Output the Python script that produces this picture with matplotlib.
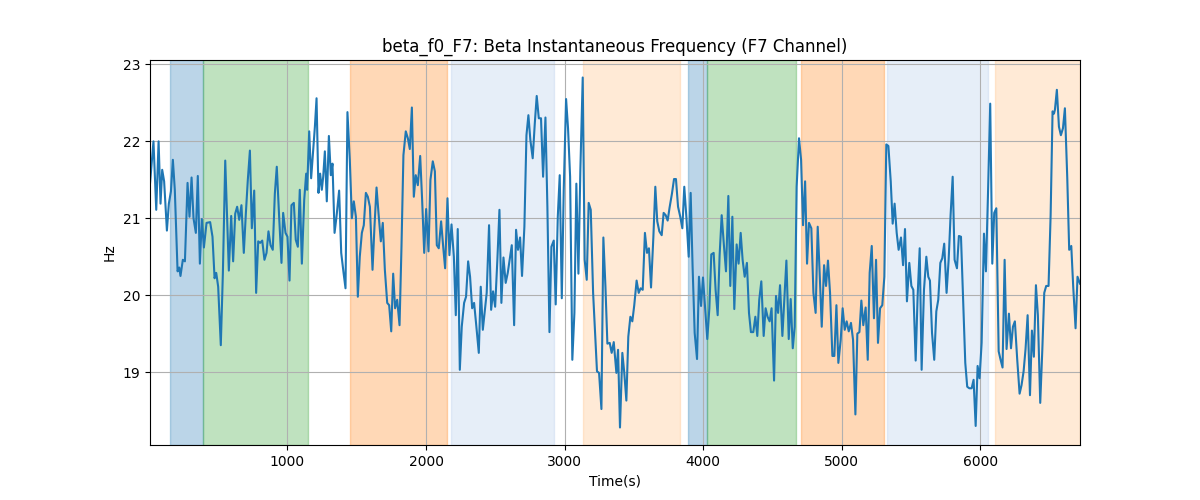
import matplotlib
matplotlib.use("Agg")
import matplotlib.pyplot as plt
import numpy as np

# ---- data ----
time_a = [8, 33, 53, 70, 84, 96, 110, 130, 144, 159, 173, 187, 207, 219, 228, 245, 260, 279, 293, 308,
          322, 339, 353, 368, 382, 397, 416, 442, 459, 474, 486, 500, 519, 534, 551, 563, 577, 594, 608, 623,
          637, 652, 668, 685, 700, 714, 729, 743, 760, 774, 789, 803, 818, 834, 849, 863, 878, 894, 909, 923,
          940, 957, 969, 986, 1000, 1015, 1029, 1046, 1060, 1075, 1089, 1104, 1121, 1135]
hz_a = [21.45, 22.00, 21.11, 22.00, 21.19, 21.63, 21.48, 20.84, 21.19, 21.35, 21.76, 21.37, 20.31, 20.36, 20.25,
        20.46, 20.44, 21.46, 21.02, 21.53, 21.00, 20.81, 21.55, 20.41, 20.99, 20.62, 20.94, 20.95, 20.76, 20.22,
        20.29, 20.11, 19.35, 20.29, 21.75, 21.09, 20.32, 21.03, 20.44, 21.06, 21.15, 20.98, 21.17, 20.55, 21.07,
        21.50, 21.88, 20.87, 21.36, 20.03, 20.70, 20.68, 20.71, 20.46, 20.55, 20.83, 20.65, 20.59, 21.32, 21.67,
        21.02, 20.42, 21.07, 20.81, 20.76, 20.19, 21.17, 21.20, 20.72, 20.63, 21.37, 20.41, 21.24, 21.58]

time_b = [1142, 1157, 1171, 1186, 1198, 1210, 1224, 1236, 1248, 1258, 1270, 1284, 1299, 1313, 1325, 1340, 1354,
          1373, 1388, 1405, 1419, 1433, 1450, 1465, 1479, 1494, 1508, 1522, 1537, 1551, 1566, 1580, 1595, 1614,
          1628, 1643, 1657, 1674, 1688, 1703, 1720, 1734, 1749, 1763, 1777, 1792, 1809, 1823, 1837, 1854, 1869,
          1883, 1898, 1912, 1926, 1941, 1958, 1972, 1987, 2001, 2018, 2032, 2049, 2064, 2078, 2092, 2109, 2124,
          2138, 2155, 2169, 2184, 2201, 2215, 2229, 2244]
hz_b = [21.37, 22.13, 21.52, 21.89, 22.19, 22.56, 21.33, 21.58, 21.37, 21.54, 21.87, 21.22, 22.07, 21.56, 21.71,
        20.81, 21.02, 21.36, 20.55, 20.29, 20.09, 22.38, 21.76, 21.00, 21.22, 21.02, 19.98, 20.50, 20.81, 20.91,
        21.33, 21.28, 21.15, 20.33, 20.89, 21.40, 21.07, 20.70, 20.94, 20.33, 19.90, 19.87, 19.53, 20.28, 19.83,
        19.94, 19.61, 20.63, 21.82, 22.13, 22.04, 21.90, 22.44, 21.28, 21.56, 21.43, 21.81, 21.24, 20.55, 21.12,
        20.57, 21.50, 21.74, 21.61, 20.65, 20.61, 20.96, 20.63, 20.35, 21.26, 20.52, 20.92, 20.50, 19.74, 20.86,
        19.03]

time_c = [2258, 2275, 2289, 2304, 2318, 2333, 2347, 2361, 2381, 2395, 2410, 2424, 2438, 2455, 2470, 2484, 2499,
          2515, 2530, 2544, 2559, 2575, 2590, 2604, 2619, 2636, 2650, 2664, 2679, 2693, 2710, 2725, 2739, 2753,
          2770, 2785, 2799, 2814, 2830, 2845, 2862, 2876, 2891, 2905, 2922, 2936, 2951, 2965, 2980, 2994, 3011,
          3025, 3040, 3056, 3071, 3085, 3100, 3114, 3131, 3145, 3160, 3174, 3189, 3206, 3220, 3234, 3249, 3266,
          3280, 3295, 3309, 3326, 3340, 3355]
hz_c = [19.59, 19.90, 19.98, 20.44, 20.24, 19.83, 19.90, 19.64, 19.25, 20.11, 19.55, 19.79, 20.03, 20.91, 19.81,
        20.05, 19.85, 20.46, 21.11, 19.90, 20.49, 20.16, 20.29, 20.46, 20.65, 19.61, 20.85, 20.59, 20.75, 20.25,
        20.89, 22.08, 22.34, 22.02, 21.78, 22.23, 22.59, 22.30, 22.30, 21.54, 22.31, 21.15, 19.52, 20.63, 20.71,
        19.88, 21.02, 21.56, 19.96, 21.37, 22.55, 22.17, 21.54, 19.16, 19.77, 21.45, 20.28, 21.63, 22.83, 20.46,
        20.20, 21.20, 21.11, 20.03, 19.51, 19.01, 18.99, 18.52, 20.75, 20.11, 19.37, 19.38, 19.25, 19.39]

time_d = [3374, 3386, 3400, 3417, 3431, 3446, 3460, 3475, 3489, 3503, 3520, 3535, 3549, 3564, 3580, 3595, 3609,
          3624, 3641, 3655, 3669, 3684, 3701, 3715, 3730, 3744, 3758, 3775, 3790, 3804, 3819, 3835, 3850, 3864,
          3879, 3896, 3910, 3924, 3939, 3956, 3970, 3985, 3999, 4013, 4030, 4045, 4059, 4076, 4090, 4105, 4119,
          4134, 4150, 4165, 4182, 4196, 4211, 4225, 4242, 4256, 4271, 4285, 4300, 4316, 4331, 4345, 4362, 4377,
          4391, 4405, 4420, 4437, 4451, 4465, 4480, 4494]
hz_d = [18.99, 19.29, 18.28, 19.25, 18.99, 18.63, 19.46, 19.72, 19.66, 19.87, 20.19, 20.03, 20.09, 20.07, 20.81,
        20.55, 20.61, 20.10, 20.76, 21.41, 20.96, 20.83, 20.78, 21.07, 21.04, 20.97, 21.14, 21.32, 21.51, 21.51,
        21.15, 21.02, 20.87, 21.41, 21.02, 20.50, 21.33, 20.37, 19.51, 19.17, 20.24, 19.86, 20.23, 19.87, 19.43,
        19.83, 20.53, 20.55, 20.07, 19.74, 20.52, 21.04, 20.65, 20.31, 21.29, 20.12, 21.02, 19.82, 20.66, 20.41,
        20.81, 20.46, 20.24, 20.42, 19.77, 19.52, 19.52, 19.72, 19.47, 19.94, 20.18, 19.47, 19.83, 19.72, 19.66,
        19.83]

time_e = [4512, 4526, 4541, 4555, 4572, 4586, 4601, 4618, 4632, 4647, 4661, 4675, 4692, 4707, 4721, 4736, 4750,
          4764, 4781, 4796, 4812, 4827, 4841, 4856, 4873, 4887, 4901, 4916, 4933, 4947, 4962, 4976, 4993, 5007,
          5022, 5036, 5051, 5067, 5082, 5099, 5113, 5128, 5142, 5156, 5173, 5188, 5202, 5217, 5233, 5248, 5262,
          5277, 5293, 5308, 5322, 5337, 5354, 5368, 5382, 5397, 5411, 5428, 5443, 5457, 5471, 5488, 5503, 5517,
          5534, 5548, 5563, 5577, 5594]
hz_e = [18.89, 19.99, 19.77, 20.13, 19.47, 19.94, 20.45, 19.43, 19.95, 19.31, 19.59, 21.41, 22.04, 21.76, 20.91,
        21.48, 20.41, 20.94, 20.87, 20.03, 19.77, 20.89, 20.29, 19.59, 20.39, 20.12, 20.45, 20.03, 19.21, 19.21,
        19.87, 19.12, 19.42, 19.83, 19.55, 19.66, 19.53, 19.64, 19.42, 18.45, 19.50, 19.52, 19.93, 19.61, 19.84,
        19.16, 20.29, 20.64, 19.70, 20.46, 19.38, 19.83, 19.87, 20.24, 21.96, 21.94, 21.48, 20.93, 21.19, 20.81,
        20.59, 20.75, 20.39, 20.86, 19.92, 20.42, 20.12, 20.07, 19.15, 19.98, 20.61, 19.03, 20.07]

time_f = [5611, 5625, 5637, 5652, 5668, 5683, 5697, 5712, 5726, 5740, 5757, 5772, 5786, 5801, 5815, 5832, 5846,
          5861, 5875, 5892, 5906, 5921, 5938, 5952, 5967, 5981, 5995, 6010, 6027, 6041, 6056, 6072, 6087, 6101,
          6116, 6133, 6147, 6161, 6176, 6190, 6207, 6222, 6236, 6250, 6267, 6284, 6298, 6313, 6327, 6342, 6359,
          6373, 6387, 6402, 6416, 6433, 6448, 6462, 6476, 6493, 6508, 6522, 6532, 6539, 6553, 6568, 6582, 6597,
          6611, 6628, 6642, 6657, 6671, 6688, 6702, 6720]
hz_f = [20.50, 20.24, 20.19, 19.51, 19.16, 19.79, 19.94, 20.42, 20.48, 20.67, 20.03, 20.46, 21.04, 21.54, 20.46,
        20.35, 20.77, 20.76, 20.03, 19.12, 18.81, 18.79, 18.79, 18.90, 18.30, 19.08, 18.92, 19.38, 20.80, 20.31,
        21.32, 22.49, 20.41, 21.07, 21.13, 19.27, 19.16, 19.06, 20.46, 19.30, 19.76, 19.31, 19.59, 19.66, 19.16,
        18.72, 18.83, 19.01, 19.30, 19.74, 18.70, 19.54, 19.20, 20.13, 19.74, 18.60, 19.29, 20.03, 20.12, 20.12,
        21.04, 22.39, 22.36, 22.41, 22.67, 22.19, 22.08, 22.17, 22.43, 21.53, 20.59, 20.64, 20.11, 19.57, 20.24,
        20.15]

# shaded intervals: (start, end)
span_starts = [154, 390, 1452, 2179, 3131, 3889, 4030, 4706, 5327, 6106]
span_ends = [390, 1149, 2150, 2924, 3833, 4030, 4670, 5305, 6053, 6720]
span_colors = ["tab:blue", "tab:green", "tab:orange", "#aec7e8", "#ffbb78",
               "tab:blue", "tab:green", "tab:orange", "#aec7e8", "#ffbb78"]
span_alpha = 0.3

time_s = np.array(time_a + time_b + time_c + time_d + time_e + time_f, dtype=float)
freq_hz = np.array(hz_a + hz_b + hz_c + hz_d + hz_e + hz_f)

fig, ax = plt.subplots(figsize=(12, 5), dpi=100)
for s, e, c in zip(span_starts, span_ends, span_colors):
    ax.axvspan(s, e, color=c, alpha=span_alpha)
ax.plot(time_s, freq_hz, color="tab:blue", linewidth=1.5)
ax.set_xlim(time_s.min(), time_s.max())
ax.set_title("beta_f0_F7: Beta Instantaneous Frequency (F7 Channel)")
ax.set_xlabel("Time(s)")
ax.set_ylabel("Hz")
ax.grid(True)
fig.savefig("out.png", dpi=100)
